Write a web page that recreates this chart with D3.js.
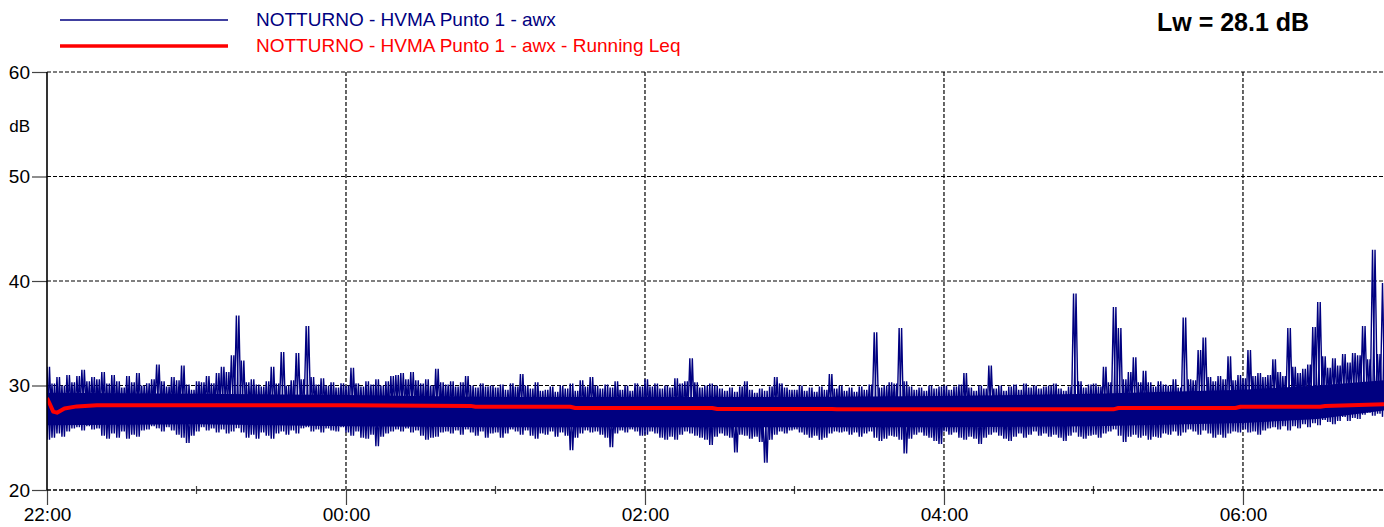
<!DOCTYPE html>
<html>
<head>
<meta charset="utf-8">
<script src="https://cdn.jsdelivr.net/npm/d3@7"></script>
<style>
  body { margin: 0; background: #fff; }
  svg { display: block; font-family: "Liberation Sans", Arial, sans-serif; }
</style>
</head>
<body>
<script>
// ---- data ----
const seriesNames = ["NOTTURNO - HVMA Punto 1 - awx", "NOTTURNO - HVMA Punto 1 - awx - Running Leq"];
const lwLabel = "Lw = 28.1 dB";
const yTicks = [20, 30, 40, 50, 60];
const startHour = 22;
const spanMinutes = 536.6;
const stepMinutes = 2;

// upper / lower envelope of the level trace, one pair each 2 minutes from 22:00
const traceHigh = [
  31.8, 30.2, 30.8, 30.0, 31.0, 30.3, 30.9, 31.5, 30.4, 30.8,
  30.6, 31.3, 30.2, 31.0, 30.4, 29.8, 30.9, 30.3, 31.2, 30.0,
  30.2, 30.6, 32.0, 30.4, 29.9, 30.8, 30.5, 31.9, 30.1, 29.6,
  30.4, 30.3, 30.9, 30.2, 31.2, 31.8, 31.3, 32.9, 36.7, 32.4,
  30.3, 30.6, 30.1, 29.9, 30.4, 31.8, 30.2, 33.2, 30.0, 30.5,
  33.1, 30.6, 35.7, 30.8, 30.1, 30.7, 30.0, 30.3, 29.8, 30.2,
  30.0, 31.7, 30.2, 29.9, 30.4, 30.1, 30.6, 30.0, 30.4, 30.9,
  31.0, 31.2, 30.6, 31.3, 30.5, 30.2, 30.6, 30.0, 31.6, 30.3,
  30.1, 30.4, 29.9, 30.3, 30.9, 30.0, 29.8, 30.2, 29.9, 30.0,
  29.8, 30.1, 29.6, 30.2, 29.9, 31.1, 30.0, 29.7, 30.3, 29.5,
  29.6, 29.9, 29.4, 30.0, 29.7, 30.2, 29.5, 30.5, 29.9, 30.8,
  30.0, 29.7, 30.1, 29.8, 30.4, 29.6, 30.0, 29.5, 30.2, 29.9,
  30.6, 29.9, 30.2, 29.7, 30.0, 29.8, 30.7, 30.2, 30.4, 32.6,
  30.3, 29.8, 30.0, 30.2, 30.0, 29.7, 29.5, 29.8, 29.4, 29.9,
  30.4, 29.6, 29.3, 29.7, 29.5, 29.9, 30.8, 30.2, 29.8, 29.6,
  29.6, 30.0, 29.5, 29.8, 29.4, 29.9, 29.6, 31.1, 29.7, 30.0,
  29.5, 29.8, 29.4, 29.9, 29.6, 30.1, 35.1, 29.8, 30.0, 30.3,
  30.2, 35.5, 30.4, 29.9, 29.6, 29.8, 29.5, 30.0, 29.7, 29.9,
  30.0, 29.6, 29.9, 30.1, 31.2, 29.8, 29.5, 30.0, 29.7, 31.9,
  29.7, 30.0, 29.5, 29.9, 30.1, 29.6, 30.2, 29.8, 30.0, 29.7,
  29.9, 30.0, 30.2, 29.7, 29.5, 29.9, 38.8, 30.4, 29.8, 30.1,
  30.2, 29.9, 31.8, 30.3, 37.5, 35.5, 30.6, 31.3, 32.7, 30.3,
  31.4, 30.3, 29.9, 30.4, 30.1, 30.0, 30.6, 29.8, 36.5, 30.6,
  30.5, 33.4, 34.6, 30.8, 30.4, 30.9, 30.6, 32.8, 30.5, 31.0,
  30.7, 33.4, 30.9, 31.2, 30.8, 31.0, 32.5, 31.3, 30.9, 35.5,
  31.8, 31.2, 31.6, 32.0, 35.6, 38.0, 32.8, 31.7, 32.6, 31.9,
  33.0, 32.2, 33.1, 32.9, 35.7, 32.5, 43.0, 33.0, 39.8
];
const traceLow = [
  24.8, 25.0, 25.4, 25.1, 25.6, 25.9, 26.0, 25.7, 26.1, 25.8,
  25.9, 25.2, 24.9, 25.4, 25.0, 25.6, 24.9, 25.3, 25.1, 25.7,
  25.8, 26.1, 25.9, 25.6, 26.0, 25.7, 25.3, 25.0, 24.5, 25.2,
  25.6, 26.0, 25.7, 25.9, 25.5, 25.8, 25.4, 25.6, 25.9, 25.5,
  25.0, 25.3, 24.9, 25.5, 25.2, 24.9, 25.4, 25.6, 25.3, 25.7,
  25.4, 25.9, 26.0, 25.6, 25.8, 25.5, 25.9, 25.7, 25.6, 26.0,
  25.5, 25.2, 25.6, 25.0, 24.9, 25.3, 24.2, 25.1, 25.4, 25.6,
  25.8, 25.6, 25.9, 25.5, 25.7, 25.2, 24.8, 25.0, 25.1, 25.5,
  25.6, 25.4, 25.7, 25.3, 25.8, 25.5, 25.2, 25.6, 25.0, 25.4,
  25.5, 25.0, 25.4, 25.8, 25.6, 25.3, 25.7, 25.2, 24.9, 25.4,
  25.3, 25.6, 25.1, 25.5, 25.2, 23.8, 25.0, 25.4, 25.7, 25.5,
  25.6, 25.3, 25.0, 24.1, 25.4, 25.7, 25.5, 25.8, 25.6, 25.2,
  25.3, 25.6, 25.4, 25.0, 24.8, 25.1, 24.8, 25.3, 25.6, 25.4,
  25.2, 25.0, 24.8, 24.3, 25.1, 25.4, 25.2, 25.0, 23.6, 25.3,
  25.2, 24.9, 25.1, 24.6, 22.6, 24.8, 25.3, 25.6, 25.4, 25.7,
  25.8, 25.5, 25.3, 25.0, 25.2, 24.8, 25.0, 25.4, 25.6, 25.5,
  25.6, 25.3, 25.5, 25.1, 25.4, 25.6, 25.0, 24.7, 24.9, 25.2,
  25.1, 24.8, 23.5, 24.9, 25.3, 25.5, 25.2, 25.0, 24.7, 24.4,
  25.6, 25.3, 25.5, 25.0, 24.8, 25.1, 24.9, 24.4, 25.0, 25.3,
  25.5, 25.2, 24.9, 24.7, 25.1, 25.4, 25.0, 25.3, 25.6, 25.2,
  25.4, 25.1, 25.3, 25.0, 24.7, 25.2, 25.5, 25.1, 24.9, 25.2,
  25.3, 25.0, 25.4, 25.6, 25.8, 25.2, 24.6, 25.1, 25.3, 25.0,
  25.2, 24.8, 25.1, 25.0, 25.4, 25.3, 25.6, 25.2, 25.5, 25.8,
  25.6, 25.3, 25.7, 25.4, 25.0, 25.3, 25.0, 25.4, 25.6, 25.5,
  25.8, 25.5, 25.6, 25.3, 25.7, 25.9, 26.0, 25.8, 26.1, 25.7,
  26.1, 25.9, 26.3, 26.0, 26.4, 26.2, 26.7, 26.5, 26.3, 26.6,
  27.0, 26.6, 26.9, 26.8, 27.2, 27.4, 27.1, 27.3, 27.0
];

// solid middle of the trace (minutes from 22:00)
const coreMinutes = [0, 60, 120, 180, 240, 300, 360, 420, 480, 510, 536.6];
const coreHigh = [29.3, 29.2, 29.1, 28.9, 28.9, 28.9, 29.0, 29.2, 29.6, 30.0, 30.5];
const coreLow = [26.2, 26.3, 26.1, 26.0, 26.0, 26.0, 26.0, 26.1, 26.4, 26.8, 27.6];

// running Leq (minutes from 22:00)
const leqMinutes = [0, 1, 2.5, 4, 7, 12, 20, 60, 120, 170, 172, 210, 212, 267, 269, 315, 317, 428, 430, 477, 479, 511, 513, 536.6];
const leqValues = [28.8, 28.3, 27.5, 27.4, 27.8, 28.0, 28.1, 28.12, 28.1, 28.05, 27.97, 27.97, 27.85, 27.85, 27.75, 27.75, 27.72, 27.72, 27.85, 27.85, 27.97, 27.97, 28.04, 28.2];

// ---- chart ----
const width = 1384;
const height = 527;
const plotLeft = 47, plotTop = 72, plotBottom = 490;
const navy = "#000080";
const red = "#ff0000";

const start = new Date(2000, 0, 1, startHour, 0, 0);
const at = (m) => new Date(start.getTime() + m * 60000);

const x = d3.scaleTime().domain([start, at(spanMinutes)]).range([plotLeft, width]);
const y = d3.scaleLinear().domain([20, 60]).range([plotBottom, plotTop]);

const svg = d3.select("body").append("svg")
  .attr("width", width)
  .attr("height", height);

svg.append("defs").append("clipPath").attr("id", "plot")
  .append("rect").attr("x", plotLeft).attr("y", 0).attr("width", width - plotLeft).attr("height", plotBottom);

// grid
const majorTimes = d3.timeHour.every(2).range(start, at(spanMinutes + 1));
const minorTimes = d3.timeHour.every(1).range(start, at(spanMinutes + 1)).filter(d => d.getHours() % 2 === 1);

svg.append("g")
  .selectAll("line")
  .data(yTicks.filter(v => v > 20))
  .join("line")
  .attr("x1", plotLeft).attr("x2", width)
  .attr("y1", d => y(d)).attr("y2", d => y(d))
  .attr("stroke", "#000").attr("stroke-width", 1.2)
  .attr("stroke-dasharray", "4,2");

svg.append("g")
  .selectAll("line")
  .data(majorTimes.slice(1))
  .join("line")
  .attr("x1", d => x(d)).attr("x2", d => x(d))
  .attr("y1", plotTop).attr("y2", plotBottom)
  .attr("stroke", "#000").attr("stroke-width", 1.2)
  .attr("stroke-dasharray", "4,2");

// level trace
const plot = svg.append("g").attr("clip-path", "url(#plot)");

const corePts = coreMinutes.map((m, i) => ({t: at(m), hi: coreHigh[i], lo: coreLow[i]}));
plot.append("path")
  .datum(corePts)
  .attr("fill", navy)
  .attr("d", d3.area().x(d => x(d.t)).y0(d => y(d.lo)).y1(d => y(d.hi)));

// two crossing zigzags through the same envelope readings
const half = stepMinutes / 2;
const zigA = [], zigB = [];
traceHigh.forEach((h, i) => {
  zigA.push({t: at(i * stepMinutes), v: h});
  zigA.push({t: at(i * stepMinutes + half), v: traceLow[i]});
  zigB.push({t: at(i * stepMinutes), v: traceLow[i]});
  zigB.push({t: at(i * stepMinutes + half), v: h});
});

const zigLine = d3.line().x(d => x(d.t)).y(d => y(d.v));
plot.selectAll("path.trace")
  .data([zigA, zigB])
  .join("path")
  .attr("class", "trace")
  .attr("fill", "none")
  .attr("stroke", navy)
  .attr("stroke-width", 1.4)
  .attr("stroke-linejoin", "bevel")
  .attr("d", zigLine);

// running Leq
plot.append("path")
  .datum(leqMinutes.map((m, i) => ({t: at(m), v: leqValues[i]})))
  .attr("fill", "none")
  .attr("stroke", red)
  .attr("stroke-width", 4)
  .attr("stroke-linejoin", "round")
  .attr("d", d3.line().x(d => x(d.t)).y(d => y(d.v)));

// axes
const yAxis = svg.append("g")
  .attr("transform", `translate(${plotLeft},0)`)
  .call(d3.axisLeft(y).tickValues(yTicks).tickSize(15).tickPadding(2).tickFormat(d3.format("d")));
yAxis.select(".domain").remove();
yAxis.selectAll("line").attr("stroke", "#444").attr("stroke-width", 1.2);
yAxis.selectAll("text").attr("font-size", 19).attr("fill", "#000").attr("font-family", "Liberation Sans, Arial, sans-serif");

const xAxis = svg.append("g")
  .attr("transform", `translate(0,${plotBottom})`)
  .call(d3.axisBottom(x).tickValues(majorTimes).tickSize(15).tickPadding(3).tickFormat(d3.timeFormat("%H:%M")));
xAxis.select(".domain").remove();
xAxis.selectAll("line").attr("stroke", "#444").attr("stroke-width", 1.2);
xAxis.selectAll("text").attr("font-size", 19).attr("fill", "#000").attr("font-family", "Liberation Sans, Arial, sans-serif");

svg.append("g")
  .selectAll("line")
  .data(minorTimes)
  .join("line")
  .attr("x1", d => x(d)).attr("x2", d => x(d))
  .attr("y1", plotBottom - 4).attr("y2", plotBottom + 4)
  .attr("stroke", "#444").attr("stroke-width", 1.2);

// frame lines
svg.append("line")
  .attr("x1", plotLeft).attr("x2", width).attr("y1", y(20)).attr("y2", y(20))
  .attr("stroke", "#000").attr("stroke-width", 1.5).attr("stroke-dasharray", "4,2");
svg.append("line")
  .attr("x1", plotLeft).attr("x2", plotLeft).attr("y1", plotTop).attr("y2", plotBottom)
  .attr("stroke", "#000").attr("stroke-width", 1.6);

svg.append("text")
  .attr("x", 30).attr("y", 132)
  .attr("text-anchor", "end")
  .attr("font-size", 17)
  .text("dB");

// legend
const legend = svg.append("g");
const legendRows = [
  {name: seriesNames[0], color: navy, w: 1.3, y: 20},
  {name: seriesNames[1], color: red, w: 3.5, y: 46}
];
legendRows.forEach(r => {
  legend.append("line")
    .attr("x1", 60).attr("x2", 228).attr("y1", r.y).attr("y2", r.y)
    .attr("stroke", r.color).attr("stroke-width", r.w);
  legend.append("text")
    .attr("x", 256).attr("y", r.y + 6)
    .attr("font-size", 19)
    .attr("fill", r.color)
    .text(r.name);
});

svg.append("text")
  .attr("x", 1157).attr("y", 31)
  .attr("font-size", 25)
  .attr("font-weight", "bold")
  .attr("fill", "#000")
  .text(lwLabel);
</script>
</body>
</html>
